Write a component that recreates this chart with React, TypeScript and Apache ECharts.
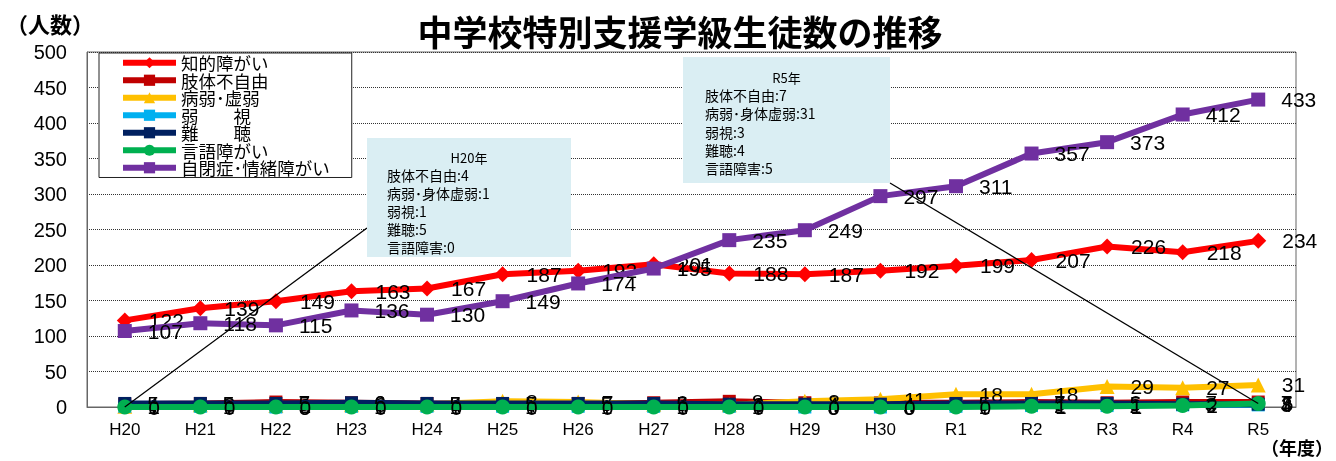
import React, { useEffect, useRef } from "react";
import * as echarts from "echarts";

const years = ["H20", "H21", "H22", "H23", "H24", "H25", "H26", "H27", "H28", "H29", "H30", "R1", "R2", "R3", "R4", "R5"];
const intellectual = [122, 139, 149, 163, 167, 187, 192, 201, 188, 187, 192, 199, 207, 226, 218, 234];
const physical = [4, 5, 7, 6, 5, 4, 5, 6, 8, 6, 6, 6, 7, 6, 7, 7];
const illness = [1, 3, 2, 3, 4, 8, 7, 4, 3, 8, 11, 18, 18, 29, 27, 31];
const lowVision = [1, 1, 0, 1, 1, 1, 1, 1, 1, 0, 0, 1, 2, 2, 3, 3];
const hearing = [5, 5, 5, 6, 5, 5, 5, 5, 4, 4, 4, 5, 5, 5, 4, 4];
const speech = [0, 0, 0, 0, 0, 0, 0, 0, 0, 0, 0, 0, 1, 1, 2, 5];
const autism = [107, 118, 115, 136, 130, 149, 174, 195, 235, 249, 297, 311, 357, 373, 412, 433];

const seriesNames = ["知的障がい", "肢体不自由", "病弱･虚弱", "弱　　視", "難　　聴", "言語障がい", "自閉症･情緒障がい"];
const seriesData = [intellectual, physical, illness, lowVision, hearing, speech, autism];
const colors = ["#FF0000", "#C00000", "#FFC000", "#00B0F0", "#002060", "#00B050", "#7030A0"];
const symbols = ["diamond", "rect", "triangle", "rect", "rect", "circle", "rect"];
const symbolSizes = [16, 13, 15, 13, 13, 15, 14];

const noteNames = ["肢体不自由", "病弱･身体虚弱", "弱視", "難聴", "言語障害"];
const noteData = [physical, illness, lowVision, hearing, speech];

const title = "中学校特別支援学級生徒数の推移";
const yAxisTitle = "（人数）";
const xAxisTitle = "（年度）";

const FONT = "'Liberation Sans', 'Noto Sans CJK JP', sans-serif";
const CJK = "'Noto Sans CJK JP', sans-serif";

function noteText(idx: number) {
  return noteNames.map((n, i) => `${n}:${noteData[i][idx]}`).join("\n");
}

export default function App() {
  const ref = useRef<HTMLDivElement>(null);
  useEffect(() => {
    if (!ref.current) return;
    const chart = echarts.init(ref.current, null, { renderer: "svg" });
    const option: any = {
      animation: false,
      textStyle: { fontFamily: FONT },
      grid: { left: 87, right: 40, top: 52, bottom: 54, show: true, borderColor: "#666", borderWidth: 1 },
      legend: {
        orient: "vertical",
        left: 99,
        top: 53,
        padding: [1, 22, 1, 21],
        backgroundColor: "#fff",
        borderColor: "#222",
        borderWidth: 1,
        itemWidth: 53,
        itemHeight: 14,
        itemGap: 0,
        lineStyle: { width: 6 },
        textStyle: { fontSize: 17.5, lineHeight: 16.8, color: "#000", fontFamily: CJK },
        data: seriesNames,
      },
      xAxis: {
        type: "category",
        data: years,
        boundaryGap: true,
        axisTick: { show: false },
        axisLine: { lineStyle: { color: "#666" } },
        axisLabel: { fontSize: 17, color: "#000", margin: 14 },
      },
      yAxis: {
        type: "value",
        min: 0,
        max: 500,
        interval: 50,
        axisLine: { show: true, lineStyle: { color: "#666" } },
        axisTick: { show: false },
        axisLabel: { fontSize: 20, color: "#000", margin: 20 },
        splitLine: { lineStyle: { type: "dotted", color: "#333", width: 1 } },
      },
      series: seriesNames.map((name, i) => ({
        name,
        type: "line",
        data: seriesData[i],
        symbol: symbols[i],
        symbolSize: symbolSizes[i],
        itemStyle: { color: colors[i] },
        lineStyle: { color: colors[i], width: 6 },
        label: { show: true, position: "right", distance: 16, fontSize: 21, color: "#000" },
        z: 2 + i,
      })),
    };
    chart.setOption(option);
    const p0 = chart.convertToPixel({ gridIndex: 0 }, [0, speech[0]]) as number[];
    const last = years.length - 1;
    const p1 = chart.convertToPixel({ gridIndex: 0 }, [last, speech[last]]) as number[];
    const box1 = { x: 367, y: 138, w: 204, h: 119 };
    const box2 = { x: 683, y: 57, w: 207, h: 126 };
    chart.setOption({
      graphic: [
        {
          type: "text",
          x: 6,
          y: 23,
          style: { text: yAxisTitle, font: `bold 22px ${CJK}`, fill: "#000", textVerticalAlign: "middle" },
        },
        {
          type: "text",
          x: 680,
          y: 30,
          style: { text: title, font: `bold 35px ${CJK}`, fill: "#000", textAlign: "center", textVerticalAlign: "middle" },
        },
        {
          type: "text",
          x: 1333,
          y: 447,
          style: { text: xAxisTitle, font: `bold 18px ${CJK}`, fill: "#000", textAlign: "right", textVerticalAlign: "middle" },
        },
        {
          type: "line",
          shape: { x1: p0[0], y1: p0[1], x2: box1.x, y2: box1.y + 90 },
          style: { stroke: "#000", lineWidth: 1.3 },
          z: 20,
        },
        {
          type: "line",
          shape: { x1: p1[0], y1: p1[1], x2: box2.x + box2.w, y2: box2.y + box2.h },
          style: { stroke: "#000", lineWidth: 1.3 },
          z: 20,
        },
        {
          type: "rect",
          shape: { x: box1.x, y: box1.y, width: box1.w, height: box1.h },
          style: { fill: "#DAEEF3" },
          z: 21,
        },
        {
          type: "text",
          x: box1.x + box1.w / 2,
          y: 157,
          style: { text: years[0] + "年", font: `13px ${CJK}`, fill: "#000", textAlign: "center", textVerticalAlign: "middle" },
          z: 22,
        },
        {
          type: "text",
          x: 387,
          y: 166,
          style: { text: noteText(0), font: `14px ${CJK}`, lineHeight: 18, fill: "#000" },
          z: 22,
        },
        {
          type: "rect",
          shape: { x: box2.x, y: box2.y, width: box2.w, height: box2.h },
          style: { fill: "#DAEEF3" },
          z: 21,
        },
        {
          type: "text",
          x: box2.x + box2.w / 2,
          y: 77,
          style: { text: years[last] + "年", font: `13px ${CJK}`, fill: "#000", textAlign: "center", textVerticalAlign: "middle" },
          z: 22,
        },
        {
          type: "text",
          x: 705,
          y: 86,
          style: { text: noteText(last), font: `14px ${CJK}`, lineHeight: 18.3, fill: "#000" },
          z: 22,
        },
      ],
    });
    return () => chart.dispose();
  }, []);
  return <div ref={ref} style={{ position: "fixed", left: 0, top: 0, width: 1336, height: 461 }} />;
}
